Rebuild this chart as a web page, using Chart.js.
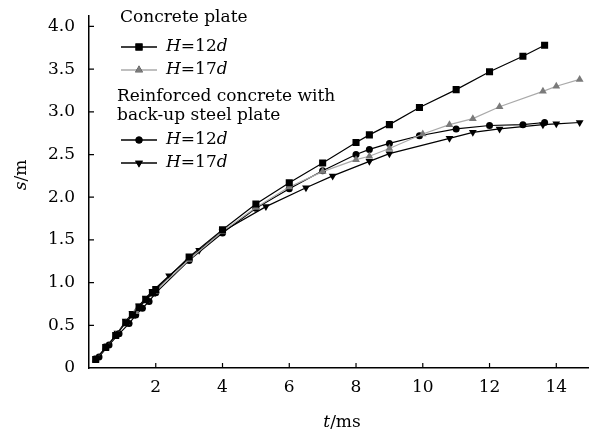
<!DOCTYPE html>
<html>
<head>
<meta charset="utf-8">
<script src="https://cdn.jsdelivr.net/npm/chart.js@4.4.0/dist/chart.umd.min.js"></script>
<style>
  html, body { margin: 0; padding: 0; background: #fff; }
</style>
</head>
<body>
<canvas id="chart" width="597" height="434"></canvas>
<script>
// Concrete plate, H=12d
const cp12T = [0.2, 0.5, 0.8, 1.1, 1.3, 1.5, 1.7, 1.9, 2.0, 3.0, 4.0, 5.0, 6.0, 7.0, 8.0, 8.4, 9.0, 9.9, 11.0, 12.0, 13.0, 13.65];
const cp12S = [0.1, 0.24, 0.38, 0.53, 0.62, 0.71, 0.8, 0.88, 0.92, 1.3, 1.62, 1.92, 2.17, 2.4, 2.64, 2.73, 2.85, 3.05, 3.26, 3.47, 3.65, 3.78];
// Concrete plate, H=17d
const cp17T = [0.2, 0.5, 0.8, 1.1, 1.4, 1.7, 2.0, 3.0, 4.0, 5.0, 6.0, 7.0, 8.0, 8.4, 9.0, 10.0, 10.8, 11.5, 12.3, 13.6, 14.0, 14.7];
const cp17S = [0.1, 0.24, 0.38, 0.53, 0.66, 0.79, 0.9, 1.27, 1.6, 1.88, 2.12, 2.3, 2.44, 2.48, 2.57, 2.74, 2.85, 2.92, 3.06, 3.24, 3.3, 3.38];
// Reinforced concrete with back-up steel plate, H=12d
const rc12T = [0.3, 0.6, 0.9, 1.2, 1.4, 1.6, 1.8, 2.0, 3.0, 4.0, 5.0, 6.0, 7.0, 8.0, 8.4, 9.0, 9.9, 11.0, 12.0, 13.0, 13.65];
const rc12S = [0.13, 0.27, 0.4, 0.52, 0.62, 0.7, 0.78, 0.88, 1.26, 1.58, 1.87, 2.1, 2.31, 2.5, 2.56, 2.63, 2.72, 2.8, 2.84, 2.85, 2.875];
// Reinforced concrete with back-up steel plate, H=17d
const rc17T = [0.25, 0.55, 0.85, 1.1, 1.3, 1.5, 1.7, 1.9, 2.4, 3.3, 4.0, 5.3, 6.5, 7.3, 8.4, 9.0, 10.8, 11.5, 12.3, 13.6, 14.0, 14.7];
const rc17S = [0.12, 0.26, 0.41, 0.55, 0.64, 0.73, 0.82, 0.9, 1.08, 1.38, 1.6, 1.89, 2.11, 2.25, 2.42, 2.51, 2.69, 2.76, 2.8, 2.85, 2.86, 2.875];

const xTicks = [2, 4, 6, 8, 10, 12, 14];
const yTicks = [0, 0.5, 1.0, 1.5, 2.0, 2.5, 3.0, 3.5, 4.0];

const SERIF = '"DejaVu Serif", "Liberation Serif", serif';

function pts(t, s) {
    return t.map((v, i) => ({ x: v, y: s[i] }));
}

const series = [
    { label: 'H=12d', t: cp12T, s: cp12S, line: '#000', fill: '#000', style: 'rect', radius: 5, rot: 0 },
    { label: 'H=17d', t: cp17T, s: cp17S, line: '#aaa', fill: '#7a7a7a', style: 'triangle', radius: 4.5, rot: 0 },
    { label: 'H=12d', t: rc12T, s: rc12S, line: '#000', fill: '#000', style: 'circle', radius: 3.5, rot: 0 },
    { label: 'H=17d', t: rc17T, s: rc17S, line: '#000', fill: '#000', style: 'triangle', radius: 4.5, rot: 180 },
];

// ticks pointing into the plot, plus titles and legend
const decor = {
    id: 'decor',
    afterDraw(chart) {
        const ctx = chart.ctx;
        const area = chart.chartArea;
        const xs = chart.scales.x, ys = chart.scales.y;
        ctx.save();
        ctx.strokeStyle = '#000';
        ctx.lineWidth = 1.2;
        ctx.beginPath();
        xTicks.forEach(v => {
            const px = xs.getPixelForValue(v);
            ctx.moveTo(px, area.bottom);
            ctx.lineTo(px, area.bottom - 5);
        });
        yTicks.slice(1).forEach(v => {
            const py = ys.getPixelForValue(v);
            ctx.moveTo(area.left, py);
            ctx.lineTo(area.left + 5, py);
        });
        ctx.stroke();

        // axis titles
        ctx.fillStyle = '#000';
        ctx.textBaseline = 'middle';
        drawMixed(ctx, [['t', true], ['/ms', false]], 342, 423, 'center');
        ctx.save();
        ctx.translate(22, 175);
        ctx.rotate(-Math.PI / 2);
        drawMixed(ctx, [['s', true], ['/m', false]], 0, 0, 'center');
        ctx.restore();

        // legend
        ctx.font = '17px ' + SERIF;
        ctx.textAlign = 'left';
        ctx.fillText('Concrete plate', 120, 18);
        ctx.fillText('Reinforced concrete with', 117, 97);
        ctx.fillText('back-up steel plate', 117, 116);
        const rows = [47, 70, 140, 163];
        series.forEach((sr, i) => {
            const y = rows[i];
            ctx.strokeStyle = sr.line;
            ctx.lineWidth = 1.5;
            ctx.beginPath();
            ctx.moveTo(121, y); ctx.lineTo(157, y);
            ctx.stroke();
            Chart.helpers.drawPoint(ctx, {
                pointStyle: sr.style, radius: sr.radius, rotation: sr.rot, borderWidth: 0
            }, 139, y);
            ctx.fillStyle = sr.fill;
            ctx.fill();
            ctx.fillStyle = '#000';
            const num = sr.label.slice(2, 4);
            drawMixed(ctx, [['H', true], ['=' + num, false], ['d', true]], 166, y, 'left');
        });
        ctx.restore();
    }
};

function drawMixed(ctx, parts, x, y, align) {
    const fonts = parts.map(p => (p[1] ? 'italic ' : '') + '17px ' + SERIF);
    let total = 0;
    const widths = parts.map((p, i) => { ctx.font = fonts[i]; const w = ctx.measureText(p[0]).width; total += w; return w; });
    let cx = align === 'center' ? x - total / 2 : x;
    ctx.textAlign = 'left';
    parts.forEach((p, i) => {
        ctx.font = fonts[i];
        ctx.fillText(p[0], cx, y);
        cx += widths[i];
    });
}

new Chart(document.getElementById('chart'), {
    type: 'scatter',
    data: {
        datasets: series.map(sr => ({
            label: sr.label,
            data: pts(sr.t, sr.s),
            showLine: true,
            borderColor: sr.line,
            borderWidth: 1.2,
            backgroundColor: sr.fill,
            pointBackgroundColor: sr.fill,
            pointBorderWidth: 0,
            pointStyle: sr.style,
            pointRadius: sr.radius,
            pointRotation: sr.rot,
        })),
    },
    plugins: [decor],
    options: {
        responsive: false,
        animation: false,
        devicePixelRatio: 1,
        layout: { padding: { top: 5, right: 9, left: 0, bottom: 0 } },
        plugins: { legend: { display: false }, tooltip: { enabled: false } },
        scales: {
            x: {
                type: 'linear',
                min: 0,
                max: 14.95,
                afterBuildTicks: s => { s.ticks = xTicks.map(v => ({ value: v })); },
                afterFit: s => { s.height = 66; },
                grid: { display: false },
                border: { display: true, color: '#000', width: 1.5 },
                ticks: { color: '#000', font: { family: SERIF, size: 17 }, padding: 1, maxRotation: 0 },
            },
            y: {
                min: 0,
                max: 4.12,
                afterBuildTicks: s => { s.ticks = yTicks.map(v => ({ value: v })); },
                afterFit: s => { s.width = 89; },
                grid: { display: false },
                border: { display: true, color: '#000', width: 1.5 },
                ticks: {
                    color: '#000', font: { family: SERIF, size: 17 }, padding: 6,
                    callback: v => (v === 0 ? '0' : v.toFixed(1)),
                },
            },
        },
    },
});
</script>
</body>
</html>
